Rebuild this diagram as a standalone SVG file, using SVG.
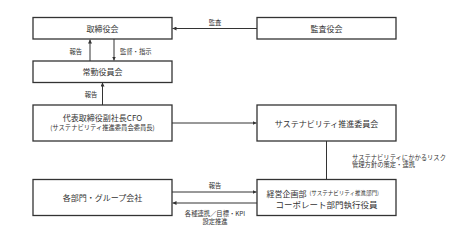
<svg xmlns="http://www.w3.org/2000/svg" width="466" height="235" viewBox="0 0 466 235">
<style>
.box{fill:#fff;stroke:#333;stroke-width:1.3}
.t{font-family:"Noto Sans CJK JP","Noto Sans",sans-serif;fill:#333;text-anchor:middle;dominant-baseline:central}
.m{font-size:8px}
.s{font-size:6.3px}
.xs{font-size:5.5px}
.ln{stroke:#333;stroke-width:1;fill:none}
.lb{font-family:"Noto Sans CJK JP","Noto Sans",sans-serif;fill:#333;font-size:6.3px;dominant-baseline:central}
</style>
<defs>
<marker id="ah" viewBox="0 0 10 10" refX="10" refY="5" markerWidth="4" markerHeight="4" orient="auto-start-reverse" markerUnits="userSpaceOnUse">
<path d="M0,0 L10,5 L0,10 z" fill="#333"/>
</marker>
</defs>
<g id="connectors">
<line class="ln" x1="257" y1="28.5" x2="172.5" y2="28.5" marker-end="url(#ah)"/>
<line class="ln" x1="90" y1="61" x2="90" y2="39.5" marker-end="url(#ah)"/>
<line class="ln" x1="114" y1="39" x2="114" y2="60.5" marker-end="url(#ah)"/>
<line class="ln" x1="102.5" y1="105" x2="102.5" y2="82.5" marker-end="url(#ah)"/>
<line class="ln" x1="172" y1="123" x2="256.5" y2="123" marker-end="url(#ah)"/>
<line class="ln" x1="326.5" y1="141" x2="326.5" y2="179"/>
<line class="ln" x1="172" y1="192" x2="256.5" y2="192" marker-end="url(#ah)"/>
<line class="ln" x1="257" y1="203" x2="172.5" y2="203" marker-end="url(#ah)"/>
<text class="lb" x="215" y="22.5" text-anchor="middle">監査</text>
<text class="lb" x="82" y="51" text-anchor="end">報告</text>
<text class="lb" x="120" y="51">監督・指示</text>
<text class="lb" x="91" y="94" text-anchor="middle">報告</text>
<text class="lb" x="215" y="185" text-anchor="middle">報告</text>
<text class="lb" x="215" y="213" text-anchor="middle">各種連携／目標・KPI</text>
<text class="lb" x="215" y="221" text-anchor="middle">設定推進</text>
<text class="lb" x="352" y="157">サステナビリティにかかるリスク</text>
<text class="lb" x="352" y="164.5">管理方針の策定・連携</text>
</g>
<g id="board">
<rect class="box" x="33" y="17.5" width="139" height="21.5"/>
<text class="t m" x="102.5" y="28.3">取締役会</text>
</g>
<g id="executive">
<rect class="box" x="33" y="61" width="139" height="21.5"/>
<text class="t m" x="102.5" y="71.8">常勤役員会</text>
</g>
<g id="cfo">
<rect class="box" x="33" y="105" width="139" height="36"/>
<text class="t m" x="102.5" y="117">代表取締役副社長CFO</text>
<text class="t s" x="102.5" y="127.5">(サステナビリティ推進委員会委員長)</text>
</g>
<g id="auditors">
<rect class="box" x="257" y="17.5" width="139" height="21.5"/>
<text class="t m" x="326.5" y="28.3">監査役会</text>
</g>
<g id="committee">
<rect class="box" x="257" y="105" width="139" height="36"/>
<text class="t m" x="326.5" y="123">サステナビリティ推進委員会</text>
</g>
<g id="divisions">
<rect class="box" x="33" y="179.5" width="139" height="36"/>
<text class="t m" x="102.5" y="197.5">各部門・グループ会社</text>
</g>
<g id="planning">
<rect class="box" x="257" y="179.5" width="139" height="36"/>
<text class="t" x="266.5" y="193" style="text-anchor:start"><tspan class="m">経営企画部</tspan><tspan class="xs" dx="3">(サステナビリティ推進部門)</tspan></text>
<text class="t m" x="326.5" y="204" style="font-size:8.5px">コーポレート部門執行役員</text>
</g>
</svg>
